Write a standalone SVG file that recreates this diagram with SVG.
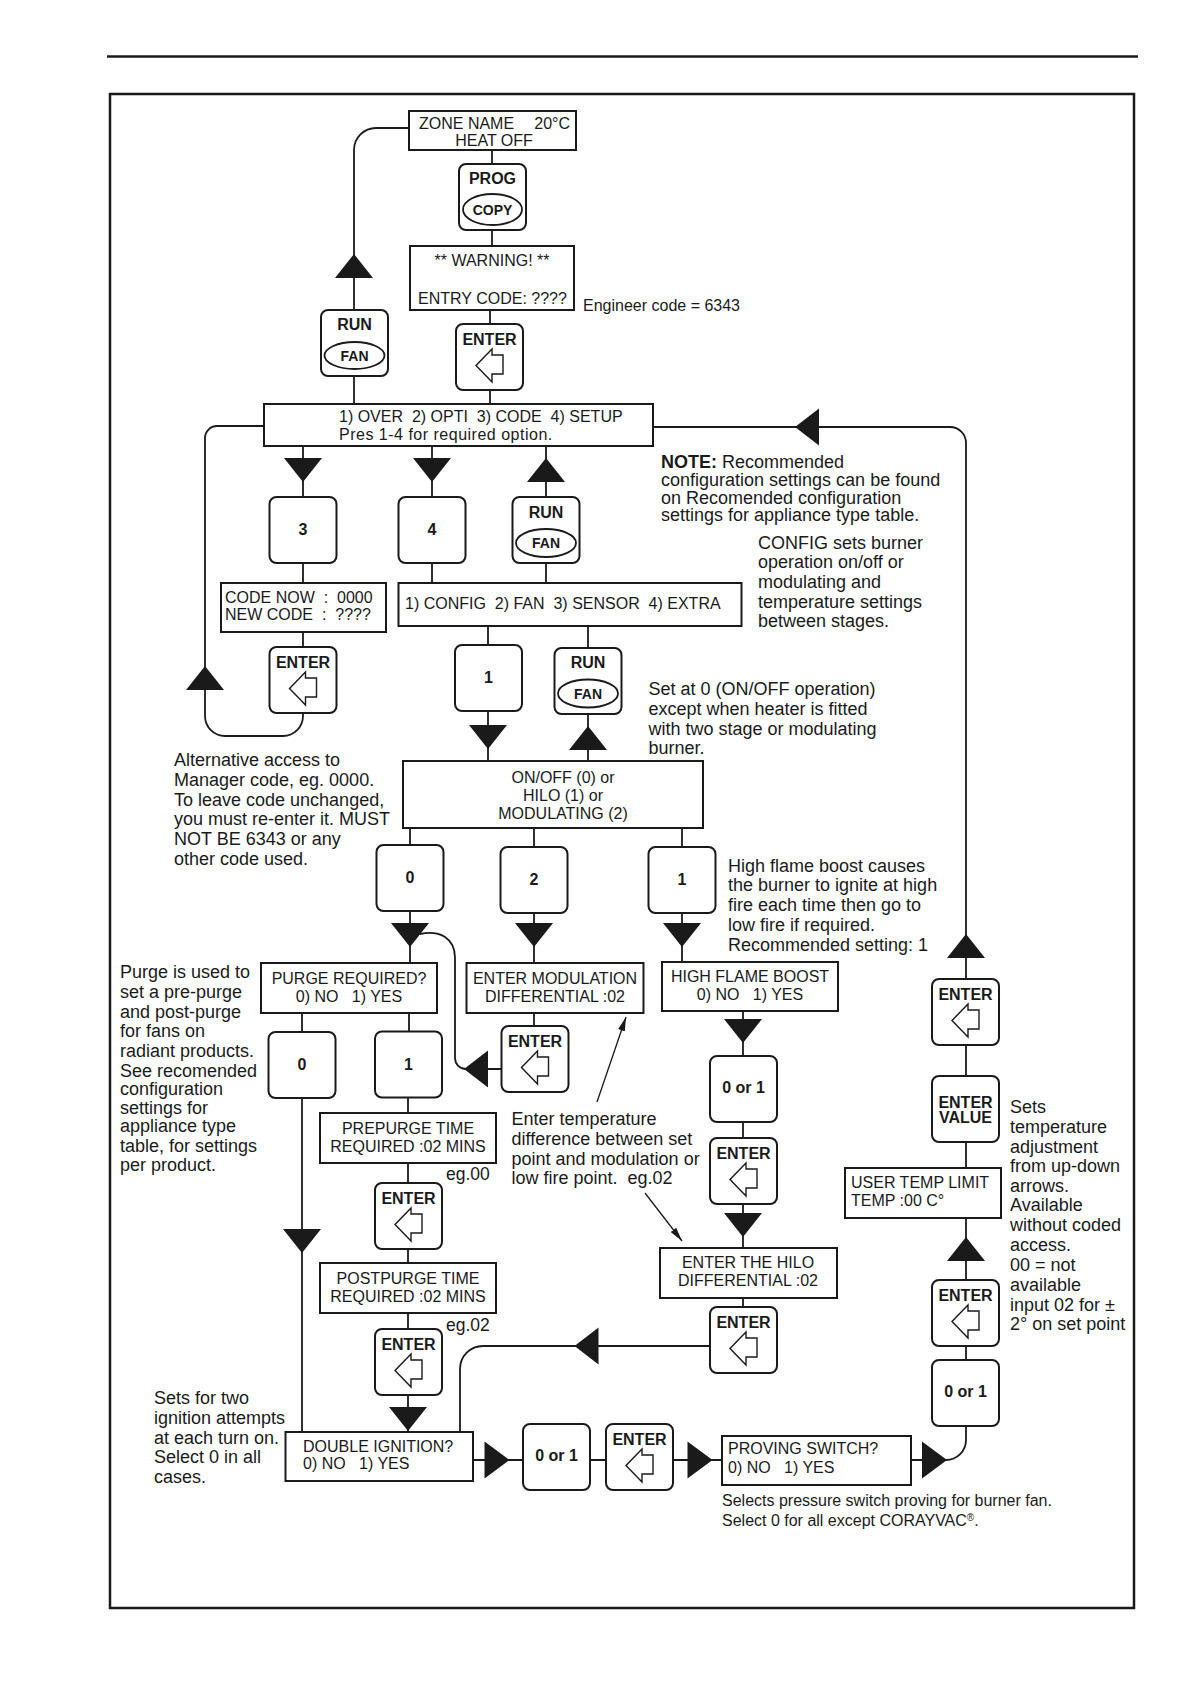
<svg xmlns="http://www.w3.org/2000/svg" xmlns:xlink="http://www.w3.org/1999/xlink" width="1190" height="1684" viewBox="0 0 1190 1684">
<style>
text{font-family:"Liberation Sans",Arial,Helvetica,sans-serif;font-size:16px;fill:#1a1a1a}
.a{font-size:18px}
.s{font-size:14px}
.b{font-weight:bold}
.c{text-anchor:middle}
.box{fill:#fff;stroke:#1a1a1a;stroke-width:2}
.ell{fill:#fff;stroke:#1a1a1a;stroke-width:1.8}
.ln{fill:none;stroke:#1a1a1a;stroke-width:1.8}
.ptr{fill:none;stroke:#1a1a1a;stroke-width:1.3}
.tri{fill:#1a1a1a}
.arr{fill:#fff;stroke:#1a1a1a;stroke-width:1.4}
</style>
<defs>
<rect id="btn" class="box" width="67" height="66" rx="7"/>
<polygon id="larr" class="arr" points="20,41.5 36,25 36,31 47,31 47,50 36,50 36,58"/>
<path id="tD" class="tri" d="M-19,0H19L0,24Z"/>
<path id="tU" class="tri" d="M0,0L19,24H-19Z"/>
<path id="tL" class="tri" d="M0,0L24,-18.5V18.5Z"/>
<path id="tR" class="tri" d="M0,0L-25,-18.5V18.5Z"/>
<marker id="pm" viewBox="0 0 14 14" refX="14" refY="7" markerWidth="14" markerHeight="14" markerUnits="userSpaceOnUse" orient="auto"><path d="M0,3.5L14,7L0,10.5Z" fill="#1a1a1a"/></marker>
</defs>
<rect width="1190" height="1684" fill="#fff"/>
<line x1="107" y1="56.5" x2="1138" y2="56.5" stroke="#1a1a1a" stroke-width="2.5"/>
<rect x="110" y="94" width="1024" height="1514" fill="none" stroke="#1a1a1a" stroke-width="2.5"/>

<g id="connectors">
<path class="ln" d="M492 150V164M492 230V246M490 310V324M490 390V404"/>
<path class="ln" d="M354 310V150A22 22 0 0 1 376 128H409"/>
<use href="#tU" x="354" y="254"/>
<path class="ln" d="M354 376V404"/>
<path class="ln" d="M653 427H950A16 16 0 0 1 966 443V979"/>
<use href="#tL" x="795" y="427"/>
<use href="#tU" x="966" y="934"/>
<path class="ln" d="M264 426H217A12 12 0 0 0 205 438V716A20 20 0 0 0 225 736H283A20 20 0 0 0 303 716V713"/>
<use href="#tU" x="205" y="666"/>
<path class="ln" d="M303 446V497M432 446V497M546 446V497"/>
<use href="#tD" x="303" y="458"/>
<use href="#tD" x="432" y="458"/>
<use href="#tU" x="546" y="458"/>
<path class="ln" d="M303 563V583M303 632V647M432 563V583M546 563V583M488 626V645M588 626V648"/>
<path class="ln" d="M488 711V761M588 714V761"/>
<use href="#tD" x="488" y="725"/>
<use href="#tU" x="588" y="726"/>
<path class="ln" d="M410 828V845M534 828V847M682 828V847"/>
<path class="ln" d="M410 911V963M534 913V963M682 913V962"/>
<use href="#tD" x="410" y="923"/>
<use href="#tD" x="534" y="923"/>
<use href="#tD" x="682" y="923"/>
<path class="ln" d="M534 1013V1026"/>
<path class="ln" d="M502 1069H466A11 11 0 0 1 455 1058V958C455 938 440 930 420 934"/>
<use href="#tL" x="464" y="1069"/>
<path class="ln" d="M302 1013V1032M409 1013V1032"/>
<path class="ln" d="M302 1098V1432"/>
<use href="#tD" x="302" y="1229"/>
<path class="ln" d="M408 1097V1113M408 1163V1183M408 1249V1263M408 1313V1329M408 1395V1432"/>
<use href="#tD" x="408" y="1407"/>
<path class="ln" d="M743 1011V1056M743 1122V1138M743 1204V1248M743 1298V1307"/>
<use href="#tD" x="743" y="1019"/>
<use href="#tD" x="743" y="1213"/>
<path class="ln" d="M710 1346H483A23 23 0 0 0 460 1369V1432"/>
<use href="#tL" x="574.5" y="1346"/>
<path class="ln" d="M473 1460H523M590 1460H606M673 1460H722"/>
<use href="#tR" x="509.5" y="1460"/>
<use href="#tR" x="712.5" y="1460"/>
<path class="ln" d="M911 1460H946A20 20 0 0 0 966 1440V1426"/>
<use href="#tR" x="947" y="1460"/>
<path class="ln" d="M966 1360V1346M966 1280V1218M966 1168V1142M966 1076V1045"/>
<use href="#tU" x="966" y="1237"/>
<path class="ptr" d="M597 1102L626 1017" marker-end="url(#pm)"/>
<path class="ptr" d="M645 1193L682 1241" marker-end="url(#pm)"/>
</g>

<g id="zone"><rect class="box" x="409" y="111" width="167" height="39"/><text x="419" y="128.5">ZONE NAME</text><text x="570" y="128.5" text-anchor="end">20°C</text><text class="c" x="494" y="146">HEAT OFF</text></g>
<g id="prog" transform="translate(459,164)"><use href="#btn"/><text class="b c" x="33.5" y="19.5">PROG</text><ellipse class="ell" cx="33.5" cy="45.5" rx="29.5" ry="15.5"/><text class="b c s" x="33.5" y="50.5">COPY</text></g>
<g id="warning"><rect class="box" x="410" y="246" width="164" height="64"/><text class="c" x="492" y="266">** WARNING! **</text><text class="c" x="492.5" y="304">ENTRY CODE: ????</text></g>
<text x="583" y="310.5">Engineer code = 6343</text>
<g id="enter1" transform="translate(456,324)"><use href="#btn"/><text class="b c" x="33.5" y="21">ENTER</text><use href="#larr"/></g>
<g id="runfan1" transform="translate(321,310)"><use href="#btn"/><text class="b c" x="33.5" y="20">RUN</text><ellipse class="ell" cx="33.5" cy="45.5" rx="30" ry="13.5"/><text class="b c s" x="33.5" y="50.5">FAN</text></g>
<g id="menu"><rect class="box" x="264" y="404" width="389" height="42"/><text x="339" y="421.5">1) OVER&#160; 2) OPTI&#160; 3) CODE&#160; 4) SETUP</text><text x="339" y="440" style="letter-spacing:0.5px">Pres 1-4 for required option.</text></g>

<g id="box3" transform="translate(269.5,497)"><use href="#btn"/><text class="b c" x="33.5" y="38">3</text></g>
<g id="box4" transform="translate(398.5,497)"><use href="#btn"/><text class="b c" x="33.5" y="38">4</text></g>
<g id="runfan2" transform="translate(512.5,497)"><use href="#btn"/><text class="b c" x="33.5" y="20.5">RUN</text><ellipse class="ell" cx="33.5" cy="46" rx="30" ry="14"/><text class="b c s" x="33.5" y="51">FAN</text></g>
<g id="codebox"><rect class="box" x="221" y="583" width="165" height="49"/><text x="225" y="602.5">CODE NOW&#160; :&#160; 0000</text><text x="225" y="620">NEW CODE&#160; :&#160; ????</text></g>
<g id="enter2" transform="translate(269.5,647)"><use href="#btn"/><text class="b c" x="33.5" y="21">ENTER</text><use href="#larr"/></g>
<g id="config"><rect class="box" x="398.5" y="583" width="343" height="43"/><text x="405" y="608.5">1) CONFIG&#160; 2) FAN&#160; 3) SENSOR&#160; 4) EXTRA</text></g>
<g id="box1" transform="translate(455,645)"><use href="#btn"/><text class="b c" x="33.5" y="38">1</text></g>
<g id="runfan3" transform="translate(554.5,648)"><use href="#btn"/><text class="b c" x="33.5" y="20">RUN</text><ellipse class="ell" cx="33.5" cy="45.5" rx="30" ry="14"/><text class="b c s" x="33.5" y="50.5">FAN</text></g>
<g id="onoff"><rect class="box" x="403" y="761" width="300" height="67"/><text class="c" x="563" y="782.5">ON/OFF (0) or</text><text class="c" x="563" y="800.5">HILO (1) or</text><text class="c" x="563" y="818.5">MODULATING (2)</text></g>

<g id="box0" transform="translate(376.5,845)"><use href="#btn"/><text class="b c" x="33.5" y="38">0</text></g>
<g id="box2" transform="translate(500.5,847)"><use href="#btn"/><text class="b c" x="33.5" y="38">2</text></g>
<g id="box1b" transform="translate(648.5,847)"><use href="#btn"/><text class="b c" x="33.5" y="38">1</text></g>
<g id="purge"><rect class="box" x="261" y="963" width="176" height="50"/><text class="c" x="349" y="984">PURGE REQUIRED?</text><text class="c" x="349" y="1001.5">0) NO&#160;&#160; 1) YES</text></g>
<g id="modbox"><rect class="box" x="466.5" y="963" width="177" height="50"/><text class="c" x="555" y="984">ENTER MODULATION</text><text class="c" x="555" y="1001.5">DIFFERENTIAL :02</text></g>
<g id="hfb"><rect class="box" x="662" y="962" width="176" height="49"/><text class="c" x="750" y="982">HIGH FLAME BOOST</text><text class="c" x="750" y="1000">0) NO&#160;&#160; 1) YES</text></g>
<g id="enter3" transform="translate(501.5,1026)"><use href="#btn"/><text class="b c" x="33.5" y="21">ENTER</text><use href="#larr"/></g>
<g id="box0b" transform="translate(268.5,1032)"><use href="#btn"/><text class="b c" x="33.5" y="38">0</text></g>
<g id="box1c" transform="translate(375,1031.5)"><use href="#btn"/><text class="b c" x="33.5" y="38">1</text></g>
<g id="prepurge"><rect class="box" x="320" y="1113" width="176" height="50"/><text class="c" x="408" y="1134">PREPURGE TIME</text><text class="c" x="408" y="1152">REQUIRED :02 MINS</text></g>
<text x="446" y="1180" style="font-size:17.5px">eg.00</text>
<g id="enter4" transform="translate(375,1183)"><use href="#btn"/><text class="b c" x="33.5" y="21">ENTER</text><use href="#larr"/></g>
<g id="postpurge"><rect class="box" x="320" y="1263" width="176" height="50"/><text class="c" x="408" y="1284">POSTPURGE TIME</text><text class="c" x="408" y="1302">REQUIRED :02 MINS</text></g>
<text x="446" y="1331" style="font-size:17.5px">eg.02</text>
<g id="enter5" transform="translate(375,1329)"><use href="#btn"/><text class="b c" x="33.5" y="21">ENTER</text><use href="#larr"/></g>
<g id="dblign"><rect class="box" x="285.5" y="1432" width="187.5" height="49"/><text x="303" y="1451.5">DOUBLE IGNITION?</text><text x="303" y="1469">0) NO&#160;&#160; 1) YES</text></g>
<g id="or1a" transform="translate(523,1424)"><use href="#btn"/><text class="b c" x="33.5" y="36.5">0 or 1</text></g>
<g id="enter6" transform="translate(606,1424)"><use href="#btn"/><text class="b c" x="33.5" y="21">ENTER</text><use href="#larr"/></g>
<g id="proving"><rect class="box" x="722" y="1436" width="189" height="49"/><text x="728" y="1454">PROVING SWITCH?</text><text x="728" y="1472.5">0) NO&#160;&#160; 1) YES</text></g>

<g id="or1mid" transform="translate(710,1056)"><use href="#btn"/><text class="b c" x="33.5" y="36.5">0 or 1</text></g>
<g id="enter9" transform="translate(710,1138)"><use href="#btn"/><text class="b c" x="33.5" y="21">ENTER</text><use href="#larr"/></g>
<g id="hilo"><rect class="box" x="660" y="1248" width="177" height="50"/><text class="c" x="748" y="1267.5">ENTER THE HILO</text><text class="c" x="748" y="1286">DIFFERENTIAL :02</text></g>
<g id="enter10" transform="translate(710,1307)"><use href="#btn"/><text class="b c" x="33.5" y="21">ENTER</text><use href="#larr"/></g>

<g id="enter8" transform="translate(932,979)"><use href="#btn"/><text class="b c" x="33.5" y="21">ENTER</text><use href="#larr"/></g>
<g id="entervalue" transform="translate(932,1076)"><use href="#btn"/><text class="b c" x="33.5" y="31.5">ENTER</text><text class="b c" x="33.5" y="47">VALUE</text></g>
<g id="usertemp"><rect class="box" x="845" y="1168" width="156" height="50"/><text x="851" y="1187.5">USER TEMP LIMIT</text><text x="851" y="1206">TEMP :00 C°</text></g>
<g id="enter7" transform="translate(932,1280)"><use href="#btn"/><text class="b c" x="33.5" y="21">ENTER</text><use href="#larr"/></g>
<g id="or1right" transform="translate(932,1360)"><use href="#btn"/><text class="b c" x="33.5" y="36.5">0 or 1</text></g>

<g id="notes">
<text class="a" x="661" y="467.5"><tspan class="b">NOTE:</tspan> Recommended</text>
<text class="a" x="661" y="485.5">configuration settings can be found</text>
<text class="a" x="661" y="503.5">on Recomended configuration</text>
<text class="a" x="661" y="521">settings for appliance type table.</text>
<text class="a" x="758" y="548.5">CONFIG sets burner</text>
<text class="a" x="758" y="568">operation on/off or</text>
<text class="a" x="758" y="587.5">modulating and</text>
<text class="a" x="758" y="607.5">temperature settings</text>
<text class="a" x="758" y="627">between stages.</text>
<text class="a" x="648.5" y="694.5">Set at 0 (ON/OFF operation)</text>
<text class="a" x="648.5" y="714.5">except when heater is fitted</text>
<text class="a" x="648.5" y="734.5">with two stage or modulating</text>
<text class="a" x="648.5" y="754">burner.</text>
<text class="a" x="174" y="766">Alternative access to</text>
<text class="a" x="174" y="786">Manager code, eg. 0000.</text>
<text class="a" x="174" y="806">To leave code unchanged,</text>
<text class="a" x="174" y="825">you must re-enter it. MUST</text>
<text class="a" x="174" y="845">NOT BE 6343 or any</text>
<text class="a" x="174" y="865">other code used.</text>
<text class="a" x="728" y="871.5">High flame boost causes</text>
<text class="a" x="728" y="891">the burner to ignite at high</text>
<text class="a" x="728" y="911">fire each time then go to</text>
<text class="a" x="728" y="931">low fire if required.</text>
<text class="a" x="728" y="951">Recommended setting: 1</text>
<text class="a" x="120" y="978">Purge is used to</text>
<text class="a" x="120" y="998">set a pre-purge</text>
<text class="a" x="120" y="1017.5">and post-purge</text>
<text class="a" x="120" y="1036.5">for fans on</text>
<text class="a" x="120" y="1057">radiant products.</text>
<text class="a" x="120" y="1076.5">See recomended</text>
<text class="a" x="120" y="1095">configuration</text>
<text class="a" x="120" y="1113.5">settings for</text>
<text class="a" x="120" y="1131.5">appliance type</text>
<text class="a" x="120" y="1151.5">table, for settings</text>
<text class="a" x="120" y="1171">per product.</text>
<text class="a" x="511.5" y="1125">Enter temperature</text>
<text class="a" x="511.5" y="1145">difference between set</text>
<text class="a" x="511.5" y="1165">point and modulation or</text>
<text class="a" x="511.5" y="1184">low fire point.&#160; eg.02</text>
<text class="a" x="1010" y="1112.5">Sets</text>
<text class="a" x="1010" y="1132.5">temperature</text>
<text class="a" x="1010" y="1152.5">adjustment</text>
<text class="a" x="1010" y="1171.5">from up-down</text>
<text class="a" x="1010" y="1191.5">arrows.</text>
<text class="a" x="1010" y="1211">Available</text>
<text class="a" x="1010" y="1231">without coded</text>
<text class="a" x="1010" y="1251">access.</text>
<text class="a" x="1010" y="1271">00 = not</text>
<text class="a" x="1010" y="1291">available</text>
<text class="a" x="1010" y="1311">input 02 for ±</text>
<text class="a" x="1010" y="1330">2° on set point</text>
<text class="a" x="154" y="1404">Sets for two</text>
<text class="a" x="154" y="1423.5">ignition attempts</text>
<text class="a" x="154" y="1443.5">at each turn on.</text>
<text class="a" x="154" y="1463">Select 0 in all</text>
<text class="a" x="154" y="1483">cases.</text>
<text x="722" y="1505.5">Selects pressure switch proving for burner fan.</text>
<text x="722" y="1525.5">Select 0 for all except CORAYVAC<tspan style="font-size:10px" dy="-5">®</tspan><tspan dy="5">.</tspan></text>
</g>
</svg>
